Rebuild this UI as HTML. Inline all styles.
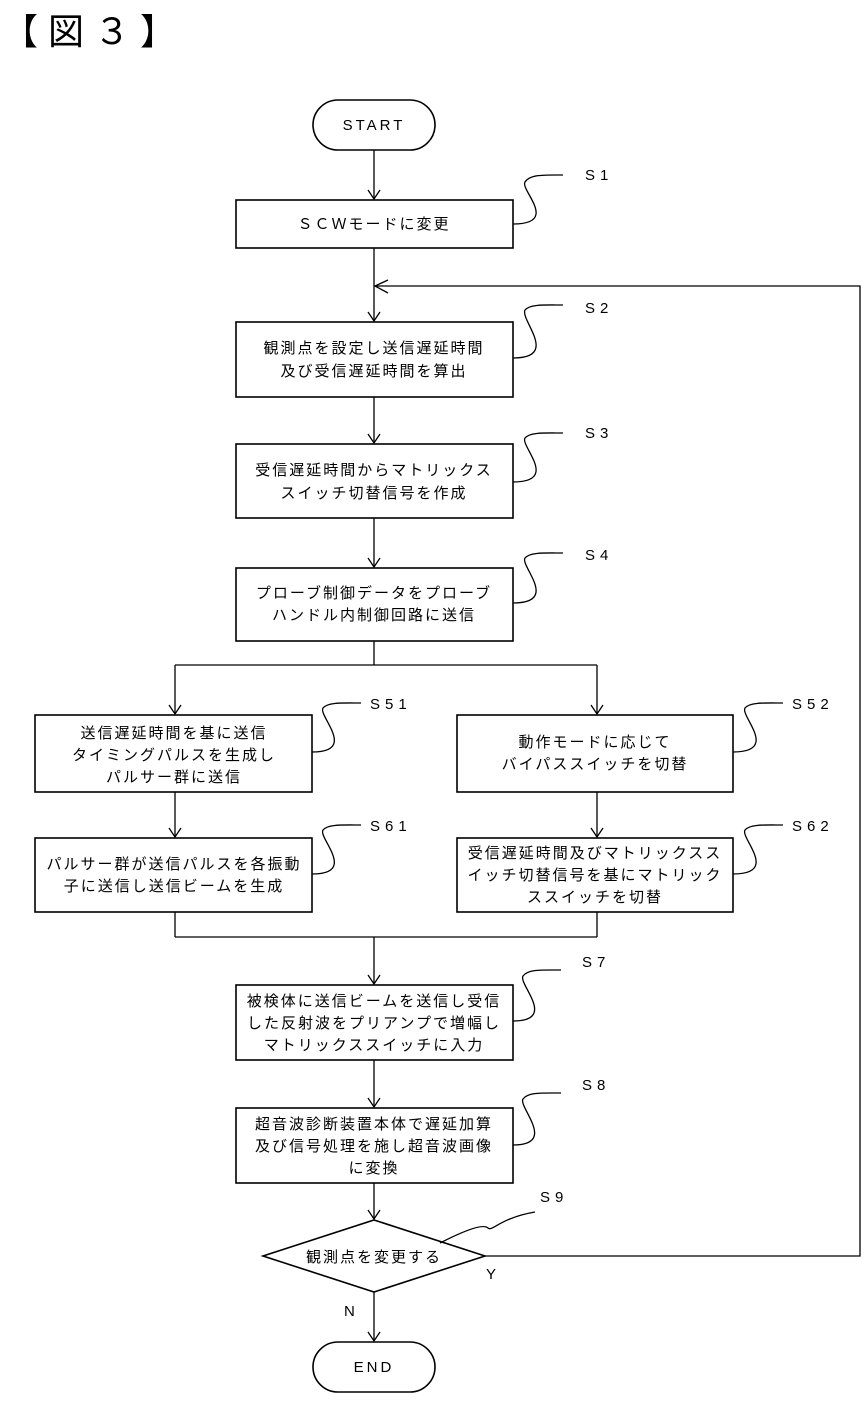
<!DOCTYPE html>
<html><head><meta charset="utf-8">
<style>
html,body{margin:0;padding:0;background:#fff;}
svg{display:block;}
text{font-family:"Liberation Sans","Noto Sans CJK JP",sans-serif;fill:#000;}
</style></head><body>
<svg width="868" height="1403" viewBox="0 0 868 1403" xmlns="http://www.w3.org/2000/svg">
<defs>
<marker id="a" markerWidth="14" markerHeight="14" refX="12" refY="7" orient="auto" markerUnits="userSpaceOnUse">
<path d="M3,1 L12,7 L3,13" fill="none" stroke="#000" stroke-width="1.3"/>
</marker>
</defs>
<text x="2" y="44" font-size="36" letter-spacing="10">【図３】</text>
<g fill="none" stroke="#000" stroke-width="1.6">
<rect x="313" y="100" width="122" height="50" rx="25"/>
<rect x="313" y="1342" width="122" height="50" rx="25"/>
<rect x="236" y="200" width="277" height="48"/>
<rect x="236" y="322" width="277" height="75"/>
<rect x="236" y="444" width="277" height="74"/>
<rect x="236" y="568" width="277" height="73"/>
<rect x="35" y="715" width="277" height="77"/>
<rect x="457" y="715" width="276" height="77"/>
<rect x="35" y="838" width="277" height="74"/>
<rect x="457" y="838" width="276" height="74"/>
<rect x="236" y="985" width="277" height="75"/>
<rect x="236" y="1108" width="277" height="75"/>
<polygon points="374,1220 485,1256 374,1292 263,1256"/>
</g>
<g fill="none" stroke="#000" stroke-width="1.3">
<line x1="374" y1="150" x2="374" y2="199" marker-end="url(#a)"/>
<line x1="374" y1="248" x2="374" y2="321" marker-end="url(#a)"/>
<polyline points="485,1256 860,1256 860,286 375,286"/>
<path d="M388,280 L375,286 L388,293"/>
<line x1="374" y1="397" x2="374" y2="443" marker-end="url(#a)"/>
<line x1="374" y1="518" x2="374" y2="567" marker-end="url(#a)"/>
<line x1="374" y1="641" x2="374" y2="665"/>
<line x1="175" y1="665" x2="597" y2="665"/>
<line x1="175" y1="665" x2="175" y2="714" marker-end="url(#a)"/>
<line x1="597" y1="665" x2="597" y2="714" marker-end="url(#a)"/>
<line x1="175" y1="792" x2="175" y2="837" marker-end="url(#a)"/>
<line x1="597" y1="792" x2="597" y2="837" marker-end="url(#a)"/>
<line x1="175" y1="912" x2="175" y2="937"/>
<line x1="597" y1="912" x2="597" y2="937"/>
<line x1="175" y1="937" x2="597" y2="937"/>
<line x1="374" y1="937" x2="374" y2="984" marker-end="url(#a)"/>
<line x1="374" y1="1060" x2="374" y2="1107" marker-end="url(#a)"/>
<line x1="374" y1="1183" x2="374" y2="1219" marker-end="url(#a)"/>
<line x1="374" y1="1292" x2="374" y2="1341" marker-end="url(#a)"/>
<path d="M513,224 C560,224 520,190 525,182 C530,174 545,175 563,175"/>
<path d="M513,358 C560,358 520,320 525,310 C530,304 545,305 563,305"/>
<path d="M513,482 C560,482 520,446 525,438 C530,432 545,433 563,433"/>
<path d="M513,603 C560,603 520,566 525,558 C530,552 545,553 563,553"/>
<path d="M312,752 C358,752 318,716 323,708 C328,702 343,703 361,703"/>
<path d="M733,752 C780,752 740,716 745,708 C750,702 765,703 783,703"/>
<path d="M312,874 C358,874 318,838 323,830 C328,824 343,825 361,825"/>
<path d="M733,874 C780,874 740,838 745,830 C750,824 765,825 783,825"/>
<path d="M513,1021 C558,1021 518,984 523,976 C528,969 542,970 561,970"/>
<path d="M513,1145 C558,1145 518,1107 523,1099 C528,1092 542,1093 561,1093"/>
<path d="M440,1243 C475,1225 485,1225 488,1228 C492,1232 500,1218 535,1212"/>
</g>
<g font-size="15" text-anchor="middle" letter-spacing="2">
<text x="374" y="130" letter-spacing="3">START</text>
<text x="374" y="1372" letter-spacing="3">END</text>
<text x="374" y="229">ＳＣＷモードに変更</text>
<text x="374" y="353">観測点を設定し送信遅延時間</text>
<text x="374" y="376">及び受信遅延時間を算出</text>
<text x="374" y="475">受信遅延時間からマトリックス</text>
<text x="374" y="498">スイッチ切替信号を作成</text>
<text x="374" y="598">プローブ制御データをプローブ</text>
<text x="374" y="620">ハンドル内制御回路に送信</text>
<text x="174" y="738">送信遅延時間を基に送信</text>
<text x="174" y="760">タイミングパルスを生成し</text>
<text x="174" y="782">パルサー群に送信</text>
<text x="595" y="747">動作モードに応じて</text>
<text x="595" y="769">バイパススイッチを切替</text>
<text x="174" y="869">パルサー群が送信パルスを各振動</text>
<text x="174" y="891">子に送信し送信ビームを生成</text>
<text x="595" y="858">受信遅延時間及びマトリックスス</text>
<text x="595" y="880">イッチ切替信号を基にマトリック</text>
<text x="595" y="902">ススイッチを切替</text>
<text x="374" y="1006">被検体に送信ビームを送信し受信</text>
<text x="374" y="1028">した反射波をプリアンプで増幅し</text>
<text x="374" y="1050">マトリックススイッチに入力</text>
<text x="374" y="1129">超音波診断装置本体で遅延加算</text>
<text x="374" y="1151">及び信号処理を施し超音波画像</text>
<text x="374" y="1173">に変換</text>
<text x="374" y="1262">観測点を変更する</text>
</g>
<g font-size="15" letter-spacing="5">
<text x="585" y="180">S1</text>
<text x="585" y="313">S2</text>
<text x="585" y="438">S3</text>
<text x="585" y="560">S4</text>
<text x="370" y="709">S51</text>
<text x="792" y="709">S52</text>
<text x="370" y="831">S61</text>
<text x="792" y="831">S62</text>
<text x="582" y="967">S7</text>
<text x="582" y="1090">S8</text>
<text x="540" y="1202">S9</text>
<text x="486" y="1279">Y</text>
<text x="344" y="1316">N</text>
</g>
</svg>
</body></html>
